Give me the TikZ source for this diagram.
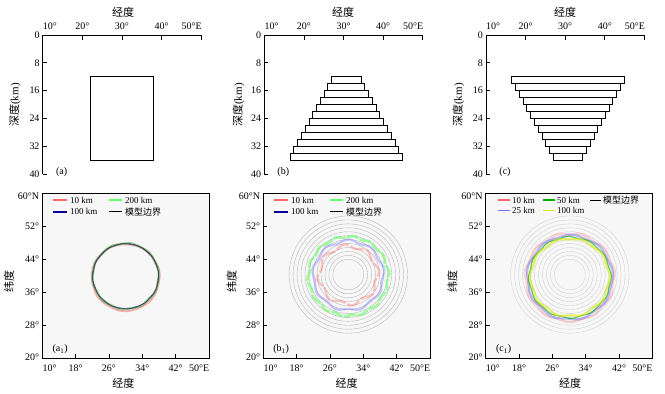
\documentclass[tikz,border=0pt]{standalone}
\usepackage{fontspec}
\setmainfont{Liberation Serif}
\newfontfamily\cjk{Noto Sans CJK SC}
\newcommand\wobring[6]{plot[domain=0:360, samples=121, variable=\t, smooth] ({#1+(#3+#4*sin(#5*\t+#6))*cos(\t)}, {#2+(#3+#4*sin(#5*\t+#6))*sin(\t)})}

\begin{document}
\begin{tikzpicture}[x=1pt, y=-1pt, every node/.style={font=\fontsize{10}{11}\selectfont, inner sep=0pt}]
        \tikzstyle{axis} = [line width=0.7pt, black]
        \tikzstyle{layer} = [line width=0.8pt, draw=black, fill=white]
        \tikzstyle{ring} = [gray!55, line width=0.4pt]
        \tikzstyle{res} = [line width=2pt, opacity=0.45, line join=round]
        \tikzstyle{title} = [font=\fontsize{11}{12}\selectfont]
        \tikzstyle{legtext} = [font=\fontsize{9}{10}\selectfont, anchor=west]
        \tikzstyle{legline} = [line width=1.6pt]
        \useasboundingbox (0,0) rectangle (665,394);

        % depth sections (a), (b), (c)
        \foreach \px/\lab/\tx/\ty in {42.7/a/123/15, 264.3/b/343/238.3, 486/c/565/458.3} {
          \begin{scope}[shift={(\px-39.6,35)}, x=3.96pt, y=-3.475pt]
            \draw[axis] (10,40) -- (10,0) -- (50,0);
            \foreach \lon in {20,30,40,50} \draw[axis] (\lon,0) -- ++(0,1.3);
            \foreach \d in {8,16,...,40} \draw[axis] (10,\d) -- ++(1,0);
            \node[anchor=west] (lon10\lab) at (10,-2.6) {10°};
            \foreach \lon in {20,30,40} \node (lon\lon\lab) at (\lon,-2.6) {\lon°};
            \node[anchor=east] (lon50\lab) at (50.2,-2.6) {50°E};
            \foreach \d in {0,8,16,...,40} \node[anchor=east, xshift=-3pt] (dep\d\lab) at (10,\d) {\d};
            \node (tag\lab) at (14.8,39.4) {(\lab)};
          \end{scope}
          \node[title] (lontitle\lab) at (\tx,12) {\cjk 经度};
          \node[title, rotate=90] (deptitle\lab) at (\ty,105) {{\cjk 深度}(km)};
        }

        % model bodies
        \begin{scope}[shift={(42.7-39.6,35)}, x=3.96pt, y=-3.475pt]
          \draw[layer] (22,12) rectangle (38,36);
        \end{scope}
        \begin{scope}[shift={(264.3-39.6,35)}, x=3.96pt, y=-3.475pt]
          \foreach \i in {0,...,11}
            \draw[layer] ({30.7-3.7-0.955*\i},{12+2*\i}) rectangle ({30.7+3.7+0.955*\i},{14+2*\i});
        \end{scope}
        \begin{scope}[shift={(486-39.6,35)}, x=3.96pt, y=-3.475pt]
          \foreach \i in {0,...,11}
            \draw[layer] ({30.7-14.2+0.955*\i},{12+2*\i}) rectangle ({30.7+14.2-0.955*\i},{14+2*\i});
        \end{scope}

        % map panels (a1), (b1), (c1)
        \foreach \px/\lab/\tx/\ty in {42.3/a/123.3/9, 263.3/b/346.7/231.7, 485.7/c/570/452.5} {
          \begin{scope}[shift={(\px-41.67,440.8)}, x=4.167pt, y=4.125pt]
            \fill[black!3] (10,20) rectangle (50,60);
            \foreach \lon in {18,26,34,42} \draw[axis] (\lon,20) -- ++(0,1);
            \foreach \lat in {28,36,44,52} \draw[axis] (10,\lat) -- ++(1,0);
            \node[anchor=west] (mlon10\lab) at (10,17.6) {10°};
            \foreach \lon in {18,26,34,42} \node (mlon\lon\lab) at (\lon,17.6) {\lon°};
            \node[anchor=east] (mlon50\lab) at (50.1,17.6) {50°E};
            \node[anchor=north east, xshift=-3pt] (mlat60\lab) at (10,60.2) {60°N};
            \foreach \lat in {28,36,44,52} \node[anchor=east, xshift=-3pt] (mlat\lat\lab) at (10,\lat) {\lat°};
            \node[anchor=east, xshift=-3pt, yshift=1.5pt] (mlat20\lab) at (10,20) {20°};
            \node (mtag\lab) at (14.3,22.2) {(\lab\textsubscript{1})};
          \end{scope}
          \node[title] (mlontitle\lab) at (\tx,383) {\cjk 经度};
          \node[title, rotate=90] (mlattitle\lab) at (\ty,281) {\cjk 纬度};
        }

        % (a1) recovered boundaries
        \begin{scope}[shift={(42.3-41.67,440.8)}, x=4.167pt, y=4.125pt]
          \draw[res, red!60, opacity=0.5] \wobring{30}{39.6}{8.1}{0.08}{7}{20} -- cycle;
          \draw[res, green!60!black!70, line width=2.4pt, opacity=0.55] \wobring{30}{39.9}{7.95}{0.1}{10}{0} -- cycle;
          \draw[blue!60!black, line width=0.7pt, opacity=0.6] \wobring{30}{39.9}{7.85}{0.06}{12}{40} -- cycle;
          \draw[black!80, line width=0.4pt] (30,39.9) circle[radius=7.95];
          \draw[axis] (10,20) rectangle (50,60);
        \end{scope}

        % (b1) recovered boundaries
        \begin{scope}[shift={(263.3-41.67,440.8)}, x=4.167pt, y=4.125pt]
          \foreach \i in {0,...,11} \draw[ring] (30.4,40.3) circle[radius={3.7+0.955*\i}];
          \draw[res, red!60, line width=2.4pt, opacity=0.35, dash pattern=on 14pt off 2pt] \wobring{30.4}{40.2}{7.0}{0.45}{8}{30} -- cycle;
          \draw[res, blue!60, line width=2.2pt, opacity=0.35] \wobring{30.4}{40.1}{8.4}{0.3}{9}{0} -- cycle;
          \draw[res, green!60, line width=2.6pt, opacity=0.6, dash pattern=on 12pt off 1.5pt] \wobring{30.4}{39.9}{9.6}{0.25}{14}{10} -- cycle;
          \draw[axis] (10,20) rectangle (50,60);
        \end{scope}

        % (c1) recovered boundaries
        \begin{scope}[shift={(485.7-41.67,440.8)}, x=4.167pt, y=4.125pt]
          \foreach \i in {0,...,11} \draw[ring, gray!35] (30.2,40.3) circle[radius={3.7+0.955*\i}];
          \draw[res, red!50, line width=2.6pt, opacity=0.3] \wobring{30.2}{39.6}{10.6}{0.25}{11}{0} -- cycle;
          \draw[res, blue!55, line width=2.2pt, opacity=0.45] \wobring{30.2}{39.6}{10.2}{0.2}{9}{30} -- cycle;
          \draw[res, green!70!black, line width=1.2pt, opacity=0.6] \wobring{30.2}{39.6}{9.8}{0.15}{12}{60} -- cycle;
          \draw[res, yellow!85!green, line width=2.2pt, opacity=0.6] \wobring{30.2}{39.6}{9.4}{0.2}{10}{90} -- cycle;
          \draw[axis] (10,20) rectangle (50,60);
        \end{scope}

        % legends
        \foreach \px/\lab in {0/a, 221/b} {
          \draw[legline, red!60] (\px+53.3,200) -- (\px+66.7,200);
          \node[legtext] (leg10\lab) at (\px+70,200) {10 km};
          \draw[legline, green!60] (\px+109.3,200) -- (\px+121.7,200);
          \node[legtext] (leg200\lab) at (\px+125,200) {200 km};
          \draw[legline, blue!60!black] (\px+53.3,211.7) -- (\px+66.7,211.7);
          \node[legtext] (leg100\lab) at (\px+70,211.7) {100 km};
          \draw[legline, black, line width=1pt] (\px+109.3,211.7) -- (\px+121.7,211.7);
          \node[legtext] (legmod\lab) at (\px+125,211.7) {\cjk 模型边界};
        }
        \draw[legline, red!60] (498.3,200) -- (510,200);
        \node[legtext] (leg10c) at (512,200) {10 km};
        \draw[legline, green!70!black] (543.3,200) -- (555,200);
        \node[legtext] (leg50c) at (557,200) {50 km};
        \draw[legline, black, line width=1pt] (590,200) -- (601,200);
        \node[legtext] (legmodc) at (603,200) {\cjk 模型边界};
        \draw[legline, blue!55] (498.3,210.5) -- (510,210.5);
        \node[legtext] (leg25c) at (512,210.5) {25 km};
        \draw[legline, yellow!85!green] (543.3,210.5) -- (555,210.5);
        \node[legtext] (leg100c) at (557,210.5) {100 km};
\end{tikzpicture}
\end{document}
